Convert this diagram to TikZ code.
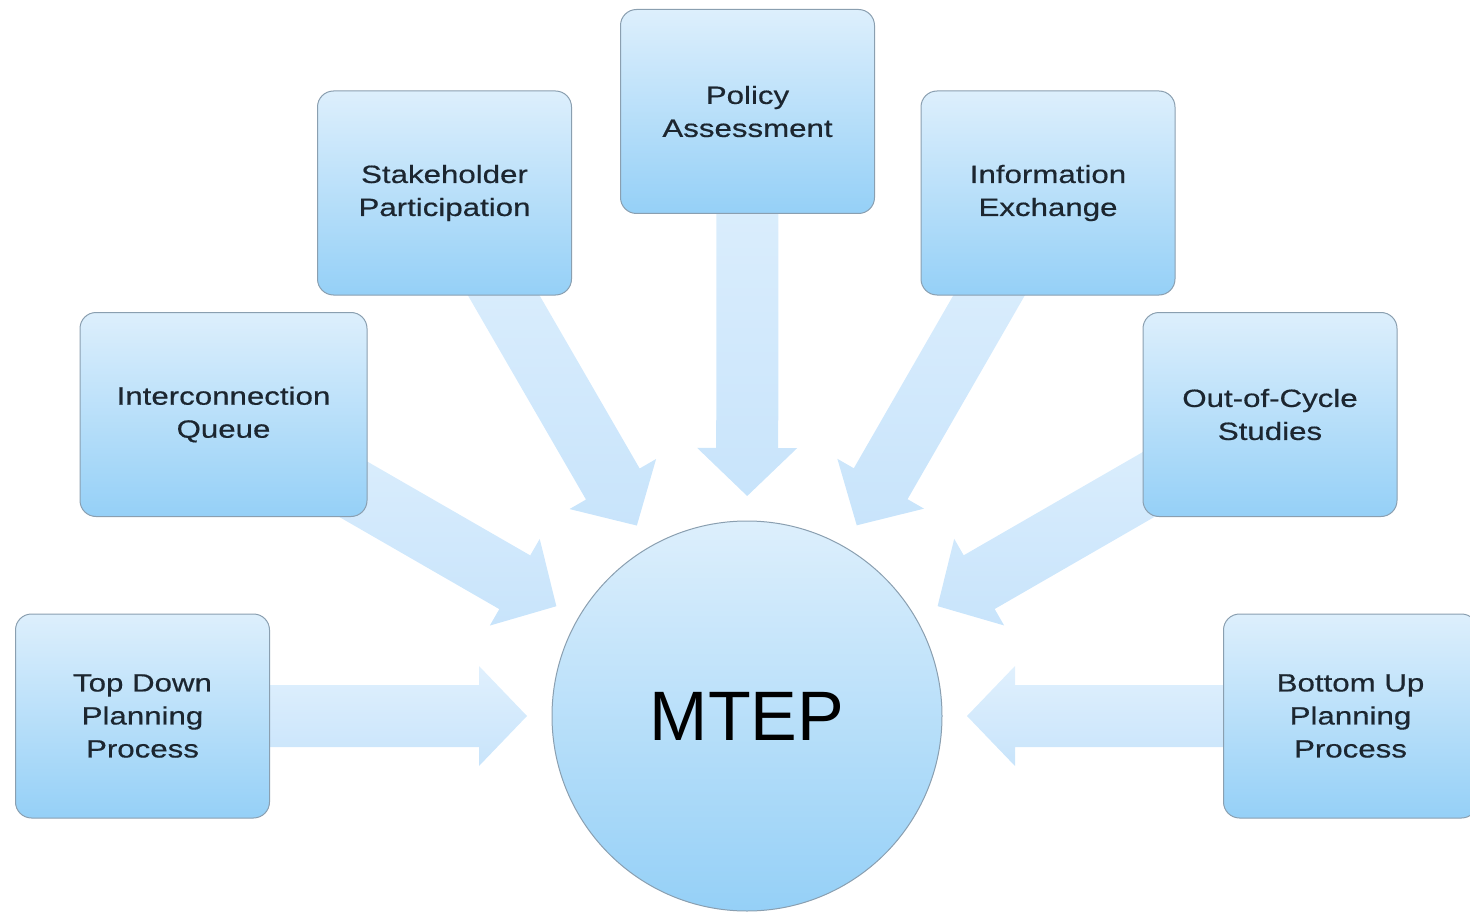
\documentclass[tikz,border=0pt]{standalone}
\usepackage{fontspec}
\setmainfont{Liberation Sans}
\newfontfamily\cardfont[FakeStretch=1.25,FakeBold=0.5]{Liberation Sans}
\usetikzlibrary{calc,backgrounds}

\definecolor{boxtop}{HTML}{DDEFFC}
\definecolor{boxbottom}{HTML}{95D0F7}
\definecolor{cardline}{HTML}{8A9FB0}
\definecolor{ink}{HTML}{1C2630}
\definecolor{arrowtop}{HTML}{E0F0FD}
\definecolor{arrowbottom}{HTML}{C8E4FB}

\tikzset{
  card/.style={rounded corners=16pt, draw=cardline, line width=1pt,
    top color=boxtop, bottom color=boxbottom,
    minimum width=254pt, minimum height=204pt, inner sep=0pt,
    align=center, text=ink, font=\cardfont\fontsize{25}{33}\selectfont},
  hubnode/.style={circle, draw=cardline, line width=1pt,
    top color=boxtop, bottom color=boxbottom,
    minimum size=390pt, inner sep=0pt,
    text=black, font=\fontsize{70}{84}\selectfont},
  blockarrow/.style={top color=arrowtop, bottom color=arrowbottom, draw=none}
}

\begin{document}
\begin{tikzpicture}[x=1pt,y=1pt]
  \useasboundingbox (0,0) rectangle (1470,-912);
  \clip (0,0) rectangle (1470,-912);

  % central hub
  \node[hubnode] (hub) at (747,-716) {MTEP};

  % surrounding inputs
  \node[card] (td) at (142.5,-716) {Top Down\\Planning\\Process};
  \node[card, minimum width=287pt] (iq) at (223.5,-414.5) {Interconnection\\Queue};
  \node[card] (sp) at (444.5,-193) {Stakeholder\\Participation};
  \node[card] (pa) at (747.5,-111.5) {Policy\\Assessment};
  \node[card] (ie) at (1048,-193) {Information\\Exchange};
  \node[card] (oc) at (1270,-414.5) {Out-of-Cycle\\Studies};
  \node[card] (bu) at (1350.5,-716) {Bottom Up\\Planning\\Process};

  % wide block arrows from each input towards the hub, behind the cards
  \begin{pgfonlayer}{background}
    \foreach \s in {td,iq,sp,pa,ie,oc,bu}{
      \coordinate (tip) at ($(hub.center)!220pt!(\s.center)$);
      \coordinate (neck) at ($(tip)!48pt!(\s.center)$);
      \path[blockarrow]
        ($(\s.center)!31pt!90:(tip)$) --
        ($(neck)!31pt!90:(tip)$) --
        ($(neck)!50pt!90:(tip)$) --
        (tip) --
        ($(neck)!50pt!-90:(tip)$) --
        ($(neck)!31pt!-90:(tip)$) --
        ($(\s.center)!31pt!-90:(tip)$) -- cycle;
    }
  \end{pgfonlayer}
\end{tikzpicture}
\end{document}
